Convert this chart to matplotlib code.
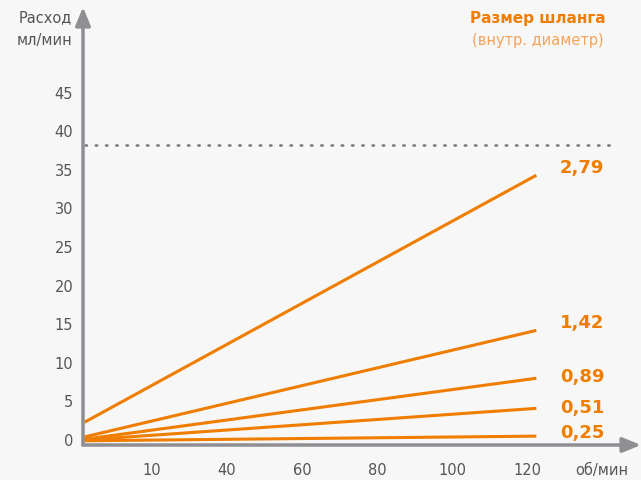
import matplotlib.pyplot as plt
import numpy as np

# данные: размер шланга (внутр. диаметр) и расход в начале/конце диапазона
sizes = ["2,79", "1,42", "0,89", "0,51", "0,25"]
x_range = [2, 122.5]
flow_start = [2.3, 0.4, 0.1, 0.0, -0.1]
flow_end = [34.3, 14.2, 8.0, 4.1, 0.5]
max_flow = 38.2

y_ticks = [0, 5, 10, 15, 20, 25, 30, 35, 40, 45]
x_ticks = [20, 40, 60, 80, 100, 120]
x_tick_labels = ["10", "40", "60", "80", "100", "120"]

orange = "#ef7d00"
light_orange = "#f3a45a"
gray_axis = "#8e8e93"
text_gray = "#555555"
bg = "#f7f7f7"

plt.rcParams['font.family'] = ['DejaVu Sans']

W, H = 641, 480
fig = plt.figure(figsize=(W / 100, H / 100), dpi=100, facecolor=bg)

# оси в пикселях: x 83..620, y 445..20
left, right, bottom, top = 83, 620, 445, 20
ax = fig.add_axes([left / W, 1 - bottom / H, (right - left) / W, (bottom - top) / H])
ax.set_facecolor(bg)
ax.set_xlim((left - 77) / 3.75, (right - 77) / 3.75)
ax.set_ylim((440 - bottom) / 7.72, (440 - top) / 7.72)
for s in ax.spines.values():
    s.set_visible(False)

for y0, y1 in zip(flow_start, flow_end):
    ax.plot(x_range, [y0, y1], color=orange, lw=2.2, solid_capstyle='butt')

ax.plot([ax.get_xlim()[0] + 0.5, 143], [max_flow, max_flow], color="#777777",
        lw=1.8, linestyle=(0, (0.6, 3.5)), dash_capstyle='round')

# подписи размеров
offsets = [7, 7, 1, 0, 3]
for lab, y1, off in zip(sizes, flow_end, offsets):
    ax.annotate(lab, (x_range[1], y1), xytext=(68, off), textcoords='offset pixels',
                ha='right', va='center', color=orange, fontsize=13, fontweight='bold')

ax.set_xticks(x_ticks)
ax.set_xticklabels(x_tick_labels)
ax.set_yticks(y_ticks)
ax.tick_params(length=0, colors=text_gray, labelsize=10.5)
ax.tick_params(axis='x', pad=13)
ax.tick_params(axis='y', pad=7)

# оси со стрелками
ax.annotate("", xy=(1.0, 0), xycoords=('figure fraction', 'axes fraction'),
            xytext=(0, 0), textcoords='axes fraction',
            arrowprops=dict(arrowstyle='-|>,head_length=1.1,head_width=0.45',
                            color=gray_axis, lw=2.5, shrinkA=0, shrinkB=0))
ax.annotate("", xy=(0, 1 - 7 / H), xycoords=('axes fraction', 'figure fraction'),
            xytext=(0, 0), textcoords='axes fraction',
            arrowprops=dict(arrowstyle='-|>,head_length=1.1,head_width=0.45',
                            color=gray_axis, lw=2.5, shrinkA=0, shrinkB=0))

fig.text(72 / W, 1 - 18 / H, "Расход", ha='right', va='center', color=text_gray, fontsize=10.5)
fig.text(72 / W, 1 - 40 / H, "мл/мин", ha='right', va='center', color=text_gray, fontsize=10.5)
fig.text(628 / W, 1 - 471 / H, "об/мин", ha='right', va='center', color=text_gray, fontsize=10.5)

fig.text(538 / W, 1 - 18 / H, "Размер шланга", ha='center', va='center',
         color=orange, fontsize=11, fontweight='bold')
fig.text(538 / W, 1 - 40 / H, "(внутр. диаметр)", ha='center', va='center',
         color=light_orange, fontsize=10.5)

fig.savefig("out.png", dpi=100, facecolor=bg)
